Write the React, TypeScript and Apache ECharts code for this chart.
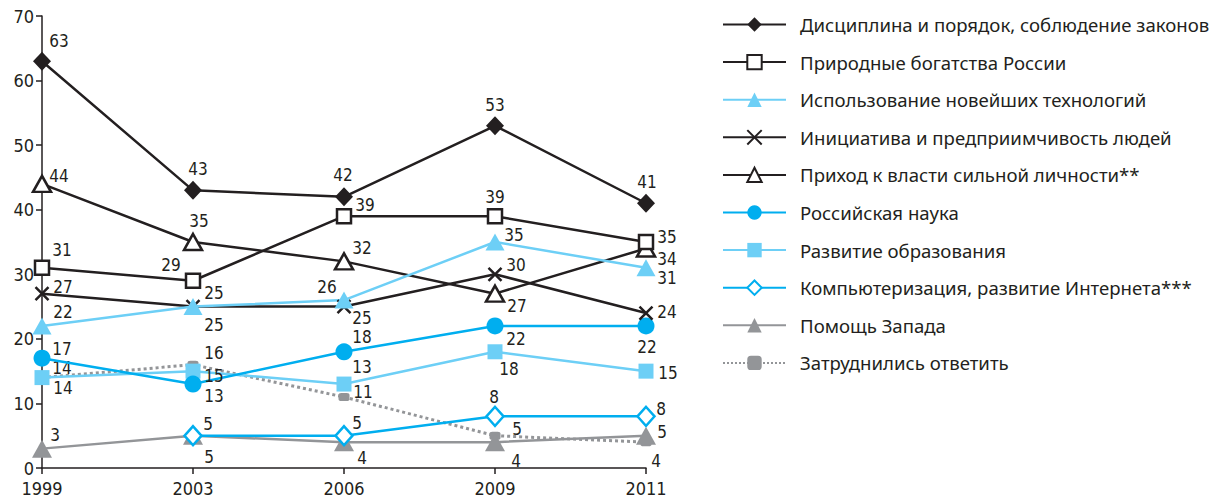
import React, { useEffect, useRef } from "react";
import * as echarts from "echarts";

const years = ["1999", "2003", "2006", "2009", "2011"];
const yTicks = { min: 0, max: 70, interval: 10 };

const discipline = [63, 43, 42, 53, 41];
const nature = [31, 29, 39, 39, 35];
const technology = [22, 25, 26, 35, 31];
const initiative = [27, 25, 25, 30, 24];
const strongLeader = [44, 35, 32, 27, 34];
const science = [17, 13, 18, 22, 22];
const education = [14, 15, 13, 18, 15];
const computers = [null, 5, 5, 8, 8];
const westHelp = [3, 5, 4, 4, 5];
const dontKnow = [14, 16, 11, 5, 4];

const names = [
  "Дисциплина и порядок, соблюдение законов",
  "Природные богатства России",
  "Использование новейших технологий",
  "Инициатива и предприимчивость людей",
  "Приход к власти сильной личности**",
  "Российская наука",
  "Развитие образования",
  "Компьютеризация, развитие Интернета***",
  "Помощь Запада",
  "Затруднились ответить",
];

// label offsets (style only): [dx, dy] from the marker centre
const offDiscipline = [[17, -20], [5, -21], [-1, -22], [0, -21], [1, -21]];
const offNature = [[20, -18], [-22, -16], [21, -11], [0, -19], [21, -5]];
const offTechnology = [[21, -14], [21, -14], [-17, -13], [19, -7], [21, 10]];
const offInitiative = [[21, -7], [21, 18], [18, 11], [21, -9], [21, -1]];
const offStrong = [[17, -8], [6, -21], [18, -13], [22, 12], [21, 11]];
const offScience = [[20, -9], [21, 12], [18, -15], [21, 13], [1, 21]];
const offEducation = [[21, 10], [21, 5], [18, -17], [14, 17], [22, 2]];
const offComputers = [[0, 0], [15, -12], [13, -13], [-1, -19], [15, -7]];
const offWest = [[13, -14], [16, 21], [18, 16], [21, 19], [16, -4]];
const offDontKnow = [[20, -10], [21, -12], [19, -5], [22, -7], [10, 19]];

const BLACK = "#231f20";
const BLUE = "#00aeef";
const LIGHT = "#6dcff6";
const GREY = "#939598";
const NUM_FONT = "'Liberation Sans Narrow', 'DejaVu Sans Condensed', 'Arial Narrow', sans-serif";
const TEXT_FONT = "'Noto Sans', 'Open Sans', sans-serif";

function mk(
  name: string,
  values: (number | null)[],
  offs: number[][],
  color: string,
  symbol: string,
  symbolSize: number | number[],
  itemStyle: any,
  lineType: string = "solid",
  lineWidth: number = 2.5,
  z: number = 2
) {
  return {
    type: "line",
    name,
    z,
    data: values.map((v, i) => ({ value: v, label: { offset: offs[i] } })),
    symbol,
    symbolSize,
    showAllSymbol: true,
    connectNulls: false,
    lineStyle: { color, width: lineWidth, type: lineType },
    itemStyle,
    label: {
      show: true,
      position: "inside",
      color: BLACK,
      fontSize: 17,
      fontFamily: NUM_FONT,
    },
    emphasis: { disabled: true },
  };
}

export default function App() {
  const ref = useRef<HTMLDivElement>(null);
  useEffect(() => {
    document.body.style.margin = "0";
    const chart = echarts.init(ref.current!, null, { renderer: "svg" });
    const series = [
      mk(names[9], dontKnow, offDontKnow, GREY, "roundRect", [11, 8], { color: GREY }, "dotted", 3, 1),
      mk(names[8], westHelp, offWest, GREY, "triangle", [20, 18], { color: GREY }, "solid", 2.5, 1),
      mk(names[7], computers, offComputers, BLUE, "diamond", [17, 19], { color: "#fff", borderColor: BLUE, borderWidth: 2.5 }),
      mk(names[6], education, offEducation, LIGHT, "rect", 15, { color: LIGHT }),
      mk(names[5], science, offScience, BLUE, "circle", 17, { color: BLUE }),
      mk(names[4], strongLeader, offStrong, BLACK, "triangle", [18, 16], { color: "#fff", borderColor: BLACK, borderWidth: 2.5 }),
      mk(names[3], initiative, offInitiative, BLACK, "path://M0,0L10,10M0,10L10,0", 13, { color: BLACK, borderColor: BLACK, borderWidth: 2.5 }),
      mk(names[2], technology, offTechnology, LIGHT, "triangle", [19, 17], { color: LIGHT }),
      mk(names[1], nature, offNature, BLACK, "rect", 14, { color: "#fff", borderColor: BLACK, borderWidth: 2.5 }),
      mk(names[0], discipline, offDiscipline, BLACK, "diamond", [18, 19], { color: BLACK }),
    ];
    chart.setOption({
      animation: false,
      grid: {
        left: 42,
        right: 573,
        top: 16,
        bottom: 33,
        containLabel: false,
        outerBoundsMode: "none",
      },
      legend: {
        orient: "vertical",
        left: 722,
        top: 15,
        padding: 0,
        itemWidth: 63,
        itemHeight: 18,
        itemGap: 18.6,
        selectedMode: false,
        data: names,
        textStyle: {
          color: BLACK,
          fontSize: 18.6,
          lineHeight: 18,
          fontFamily: TEXT_FONT,
          padding: [0, 0, 0, 9],
        },
      },
      xAxis: {
        type: "category",
        data: years,
        boundaryGap: false,
        axisLine: { lineStyle: { color: BLACK, width: 1.5 } },
        axisTick: { show: true, length: 6, lineStyle: { color: BLACK, width: 1.5 } },
        axisLabel: { color: BLACK, fontSize: 18, fontFamily: NUM_FONT, margin: 11 },
        splitLine: { show: false },
      },
      yAxis: {
        type: "value",
        min: yTicks.min,
        max: yTicks.max,
        interval: yTicks.interval,
        axisLine: { show: true, lineStyle: { color: BLACK, width: 1.5 } },
        axisTick: { show: true, length: 6, lineStyle: { color: BLACK, width: 1.5 } },
        axisLabel: { color: BLACK, fontSize: 18, fontFamily: NUM_FONT, margin: 8 },
        splitLine: { show: false },
      },
      series,
    });
    return () => chart.dispose();
  }, []);
  return (
    <div
      ref={ref}
      style={{ position: "fixed", left: 0, top: 0, width: 1219, height: 501, background: "#fff" }}
    />
  );
}
